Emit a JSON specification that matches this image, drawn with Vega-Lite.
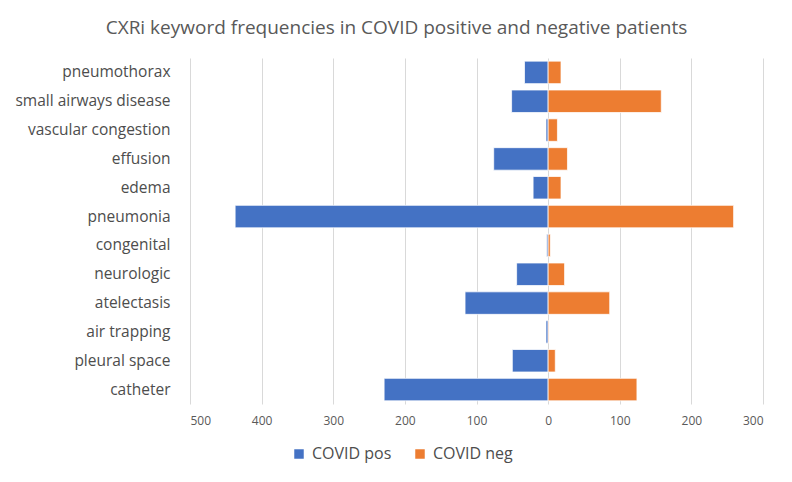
{
  "$schema": "https://vega.github.io/schema/vega-lite/v6.json",
  "width": 573,
  "height": 346,
  "autosize": {"type": "none"},
  "padding": {"left": 190, "top": 58, "right": 29, "bottom": 78},
  "background": "#ffffff",
  "title": {
    "text": "CXRi keyword frequencies in COVID positive and negative patients",
    "frame": "group",
    "anchor": "middle",
    "dx": -80,
    "offset": 5,
    "baseline": "alphabetic",
    "font": "Open Sans",
    "fontSize": 19,
    "fontWeight": "normal",
    "color": "#595959"
  },
  "data": {
    "values": [
      {"keyword": "pneumothorax", "group": "COVID pos", "value": -33},
      {"keyword": "pneumothorax", "group": "COVID neg", "value": 18},
      {"keyword": "small airways disease", "group": "COVID pos", "value": -51},
      {"keyword": "small airways disease", "group": "COVID neg", "value": 158},
      {"keyword": "vascular congestion", "group": "COVID pos", "value": -3},
      {"keyword": "vascular congestion", "group": "COVID neg", "value": 13},
      {"keyword": "effusion", "group": "COVID pos", "value": -76},
      {"keyword": "effusion", "group": "COVID neg", "value": 27},
      {"keyword": "edema", "group": "COVID pos", "value": -21},
      {"keyword": "edema", "group": "COVID neg", "value": 18},
      {"keyword": "pneumonia", "group": "COVID pos", "value": -437},
      {"keyword": "pneumonia", "group": "COVID neg", "value": 259},
      {"keyword": "congenital", "group": "COVID pos", "value": -2},
      {"keyword": "congenital", "group": "COVID neg", "value": 3},
      {"keyword": "neurologic", "group": "COVID pos", "value": -44},
      {"keyword": "neurologic", "group": "COVID neg", "value": 23},
      {"keyword": "atelectasis", "group": "COVID pos", "value": -116},
      {"keyword": "atelectasis", "group": "COVID neg", "value": 86},
      {"keyword": "air trapping", "group": "COVID pos", "value": -3},
      {"keyword": "air trapping", "group": "COVID neg", "value": 1},
      {"keyword": "pleural space", "group": "COVID pos", "value": -50},
      {"keyword": "pleural space", "group": "COVID neg", "value": 10},
      {"keyword": "catheter", "group": "COVID pos", "value": -229},
      {"keyword": "catheter", "group": "COVID neg", "value": 124}
    ]
  },
  "mark": {"type": "bar", "stroke": "#ffffff", "strokeWidth": 0.75},
  "encoding": {
    "y": {
      "field": "keyword",
      "type": "nominal",
      "sort": ["pneumothorax", "small airways disease", "vascular congestion", "effusion", "edema", "pneumonia", "congenital", "neurologic", "atelectasis", "air trapping", "pleural space", "catheter"],
      "scale": {"paddingInner": 0.22, "paddingOuter": 0.11},
      "axis": {
        "title": null,
        "domain": false,
        "ticks": false,
        "labelPadding": 20,
        "labelFont": "Open Sans",
        "labelFontSize": 15.5,
        "labelColor": "#4d4d4d",
        "grid": false
      }
    },
    "x": {
      "field": "value",
      "type": "quantitative",
      "stack": null,
      "scale": {"domain": [-500, 300], "nice": false},
      "axis": {
        "title": null,
        "values": [-500, -400, -300, -200, -100, 0, 100, 200, 300],
        "labelExpr": "abs(datum.value)",
        "domain": false,
        "ticks": false,
        "labelPadding": 11,
        "labelFont": "Open Sans",
        "labelFontSize": 12,
        "labelColor": "#595959",
        "grid": true,
        "gridColor": "#D9D9D9",
        "gridWidth": 1
      }
    },
    "color": {
      "field": "group",
      "type": "nominal",
      "scale": {"domain": ["COVID pos", "COVID neg"], "range": ["#4472C4", "#ED7D31"]},
      "legend": {
        "title": null,
        "orient": "none",
        "direction": "horizontal",
        "legendX": 101,
        "legendY": 388,
        "symbolType": "square",
        "symbolSize": 90,
        "symbolStrokeWidth": 0,
        "labelFont": "Open Sans",
        "labelFontSize": 16,
        "labelColor": "#4d4d4d",
        "labelOffset": 5,
        "columnPadding": 20
      }
    }
  },
  "config": {"view": {"stroke": null}}
}
